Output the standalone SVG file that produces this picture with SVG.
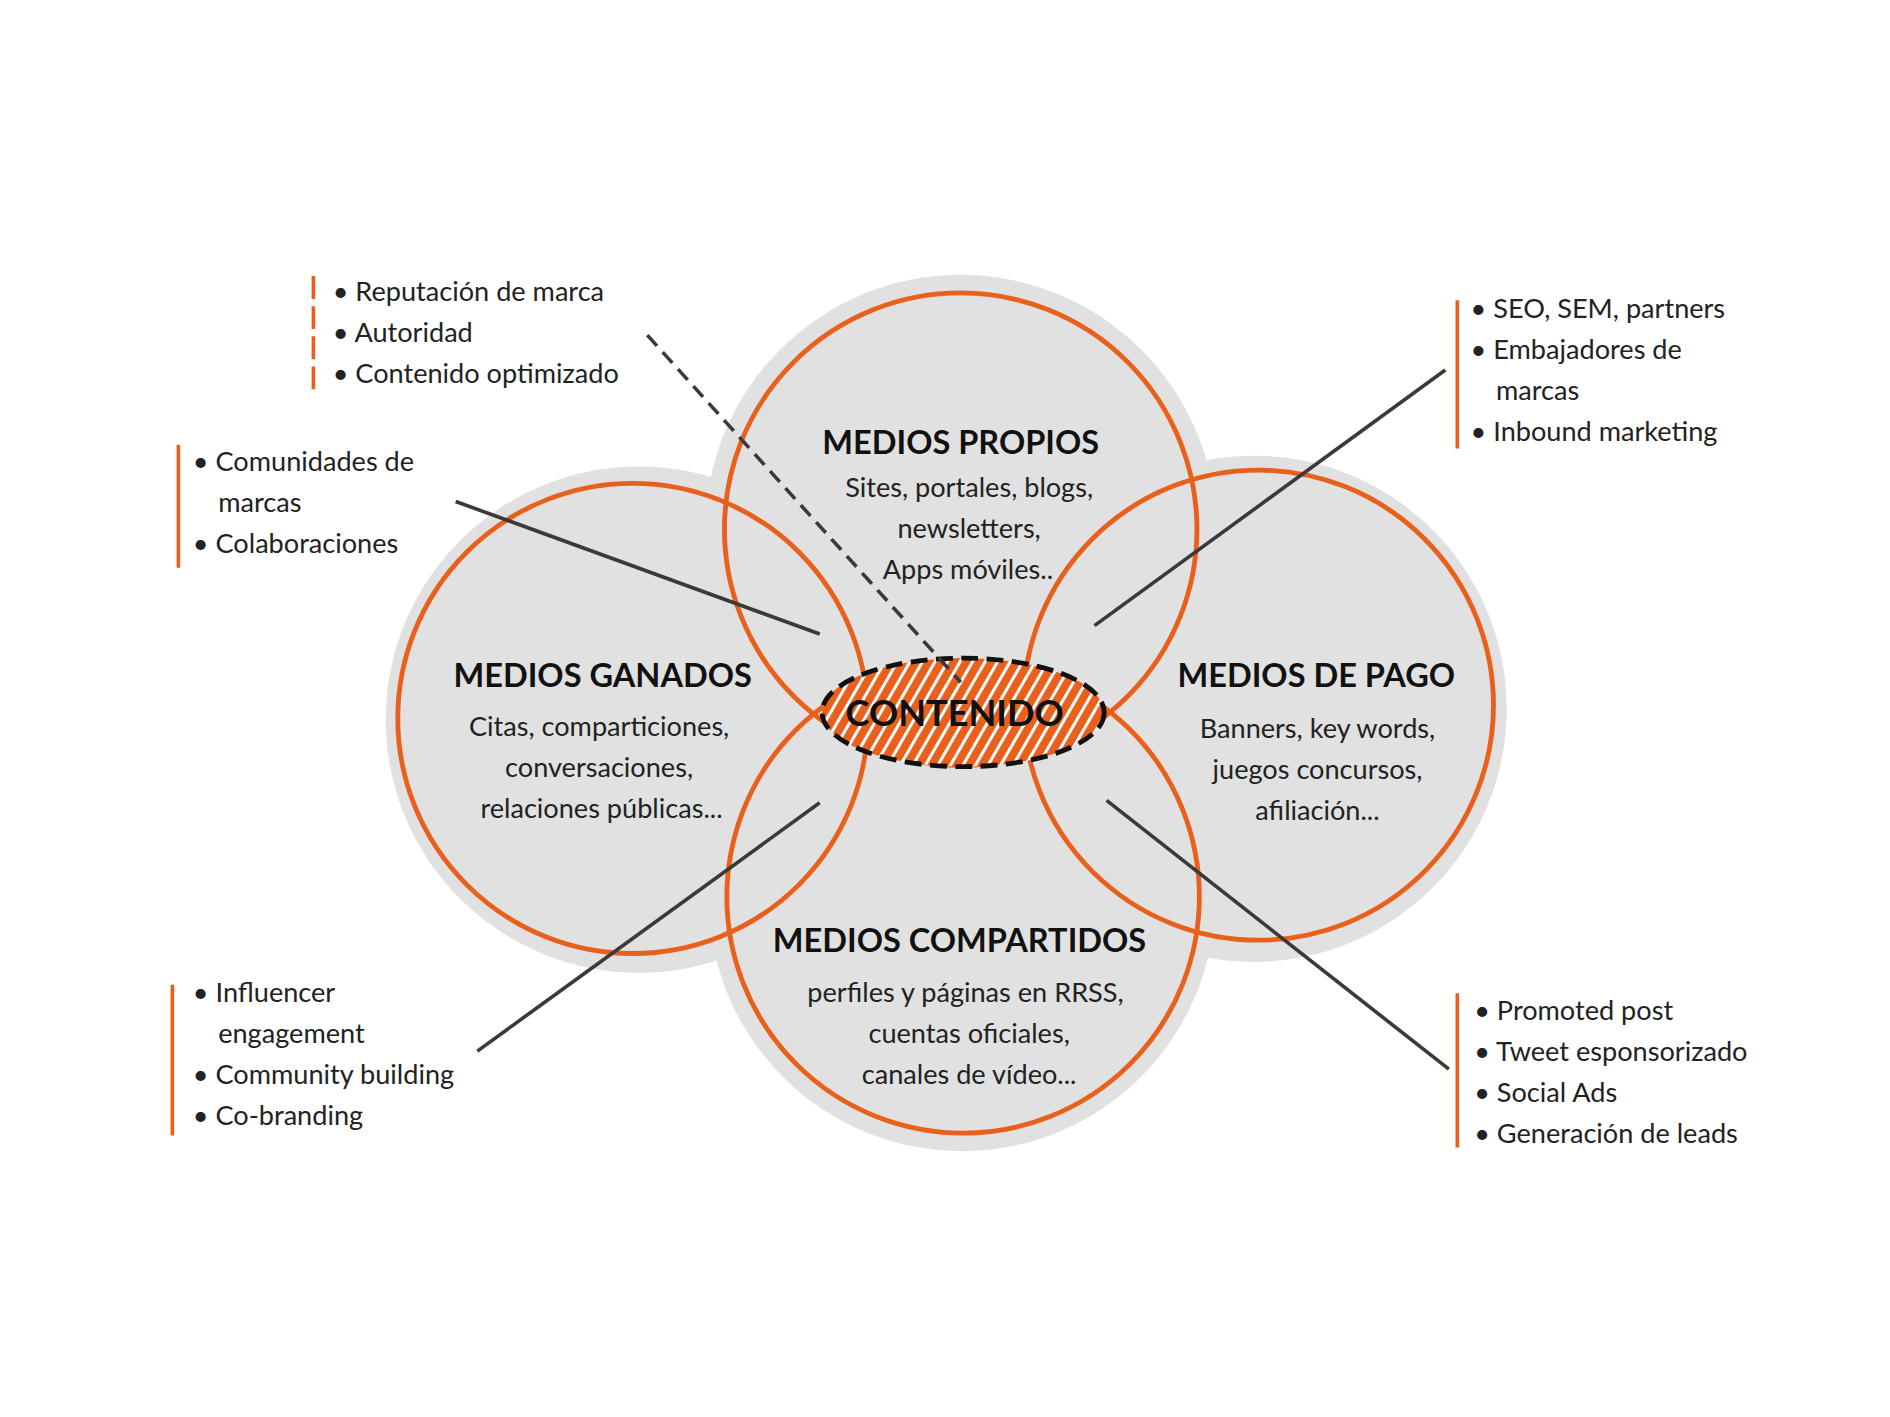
<svg xmlns="http://www.w3.org/2000/svg" width="1890" height="1417" viewBox="0 0 1890 1417">
<defs>
<style>
.g{fill:#e1e1e1}
.o{fill:none;stroke:#e8601c;stroke-width:4}
.t{font-family:Lato,"Open Sans",sans-serif;font-weight:bold;font-size:27px;fill:#111;text-anchor:middle}
.b{font-family:Lato,"Open Sans",sans-serif;font-size:22.5px;fill:#222;text-anchor:middle}
.l{font-family:Lato,"Open Sans",sans-serif;font-size:22.5px;fill:#222}
.bar{stroke:#e8601c;stroke-width:3}
.c{stroke:#3a3a3a;stroke-width:3;fill:none}
</style>
<pattern id="h" width="9" height="9" patternUnits="userSpaceOnUse" patternTransform="rotate(30)">
<rect width="9" height="9" fill="#e8601c"/>
<rect width="2.5" height="9" fill="#fff"/>
</pattern>
</defs>
<rect width="1890" height="1417" fill="#fff"/>
<g transform="scale(1.2054)">
<g id="bg">
<circle class="g" cx="797" cy="440" r="212"/>
<circle class="g" cx="530" cy="597" r="210"/>
<circle class="g" cx="1040" cy="588" r="210"/>
<circle class="g" cx="798" cy="745" r="210"/>
</g>
<g id="propios"><circle class="o" cx="797" cy="439" r="196"/>
<text class="t" x="797" y="377">MEDIOS PROPIOS</text>
<text class="b" x="804" y="412">Sites, portales, blogs,</text>
<text class="b" x="804" y="446">newsletters,</text>
<text class="b" x="803" y="480">Apps móviles..</text></g>
<g id="ganados"><circle class="o" cx="525" cy="596" r="195"/>
<text class="t" x="500" y="570">MEDIOS GANADOS</text>
<text class="b" x="497" y="611">Citas, comparticiones,</text>
<text class="b" x="497" y="645">conversaciones,</text>
<text class="b" x="499" y="679">relaciones públicas...</text></g>
<g id="pago"><circle class="o" cx="1044" cy="585" r="195"/>
<text class="t" x="1092" y="570">MEDIOS DE PAGO</text>
<text class="b" x="1093" y="612">Banners, key words,</text>
<text class="b" x="1093" y="646">juegos concursos,</text>
<text class="b" x="1093" y="680">afiliación...</text></g>
<g id="compartidos"><circle class="o" cx="799" cy="744" r="196"/>
<text class="t" x="796" y="790">MEDIOS COMPARTIDOS</text>
<text class="b" x="801" y="831">perfiles y páginas en RRSS,</text>
<text class="b" x="804" y="865">cuentas oficiales,</text>
<text class="b" x="804" y="899">canales de vídeo...</text></g>
<g id="contenido">
<ellipse cx="799" cy="591" rx="117" ry="45" fill="url(#h)" stroke="#111" stroke-width="4" stroke-dasharray="14 7"/>
<text class="t" x="792" y="602" style="font-size:30px">CONTENIDO</text></g>
<g id="connectors">
<line class="c" x1="537" y1="278" x2="797" y2="566" stroke-dasharray="12 7"/>
<line class="c" x1="378" y1="416" x2="680" y2="526"/>
<line class="c" x1="1199" y1="307" x2="908" y2="519"/>
<line class="c" x1="680" y1="666" x2="396" y2="872"/>
<line class="c" x1="918" y1="664" x2="1202" y2="887"/>
</g>
<g id="list-tl"><line class="bar" x1="260" y1="229" x2="260" y2="325" stroke-dasharray="19 6"/>
<text class="l" x="276" y="250">•  Reputación de marca</text>
<text class="l" x="276" y="284">•  Autoridad</text>
<text class="l" x="276" y="318">•  Contenido optimizado</text></g>
<g id="list-l"><line class="bar" x1="148" y1="369" x2="148" y2="471"/>
<text class="l" x="160" y="391">•  Comunidades de</text>
<text class="l" x="181" y="425">marcas</text>
<text class="l" x="160" y="459">•  Colaboraciones</text></g>
<g id="list-tr"><line class="bar" x1="1209" y1="249" x2="1209" y2="372"/>
<text class="l" x="1220" y="264">•  SEO, SEM, partners</text>
<text class="l" x="1220" y="298">•  Embajadores de</text>
<text class="l" x="1241" y="332">marcas</text>
<text class="l" x="1220" y="366">•  Inbound marketing</text></g>
<g id="list-bl"><line class="bar" x1="143" y1="817" x2="143" y2="942"/>
<text class="l" x="160" y="831">•  Influencer</text>
<text class="l" x="181" y="865">engagement</text>
<text class="l" x="160" y="899">•  Community building</text>
<text class="l" x="160" y="933">•  Co-branding</text></g>
<g id="list-br"><line class="bar" x1="1209" y1="824" x2="1209" y2="952"/>
<text class="l" x="1223" y="846">•  Promoted post</text>
<text class="l" x="1223" y="880">•  Tweet esponsorizado</text>
<text class="l" x="1223" y="914">•  Social Ads</text>
<text class="l" x="1223" y="948">•  Generación de leads</text></g>
</g>
</svg>
